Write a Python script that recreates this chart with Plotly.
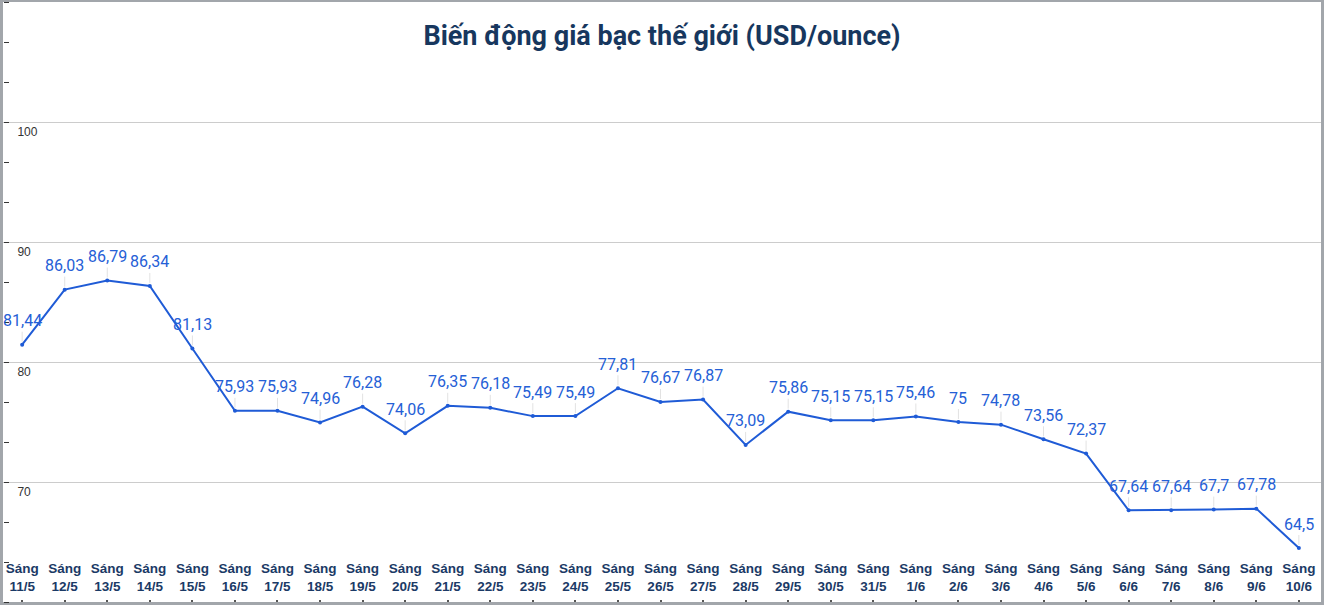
import plotly.graph_objects as go

categories = ["11/5", "12/5", "13/5", "14/5", "15/5", "16/5", "17/5", "18/5", "19/5", "20/5",
              "21/5", "22/5", "23/5", "24/5", "25/5", "26/5", "27/5", "28/5", "29/5", "30/5",
              "31/5", "1/6", "2/6", "3/6", "4/6", "5/6", "6/6", "7/6", "8/6", "9/6", "10/6"]
prices = [81.44, 86.03, 86.79, 86.34, 81.13, 75.93, 75.93, 74.96, 76.28, 74.06,
          76.35, 76.18, 75.49, 75.49, 77.81, 76.67, 76.87, 73.09, 75.86, 75.15,
          75.15, 75.46, 75.00, 74.78, 73.56, 72.37, 67.64, 67.64, 67.70, 67.78, 64.50]
y_tickvals = [70, 80, 90, 100]
title_text = "Biến động giá bạc thế giới (USD/ounce)"

x_labels = ["Sáng<br>" + c for c in categories]

def fmt(v):
    s = ("%.2f" % v).rstrip("0").rstrip(".")
    return s.replace(".", ",")

LINE = "#1f5bd6"
fig = go.Figure()
fig.add_trace(go.Scatter(
    x=x_labels, y=prices, mode="lines+markers",
    line=dict(color=LINE, width=2),
    marker=dict(color=LINE, size=4),
    hoverinfo="skip", showlegend=False,
))

for xl, v in zip(x_labels, prices):
    fig.add_annotation(
        x=xl, y=v, xref="x", yref="y", text=fmt(v),
        showarrow=True, arrowhead=0, arrowwidth=1, arrowcolor="#e2e2e2",
        ax=0, ay=-24, standoff=3,
        font=dict(family="Roboto, Arial, sans-serif", size=16, color="#2560d6"),
    )

fig.update_layout(
    width=1324, height=605,
    margin=dict(l=3, r=3, t=2, b=3),
    paper_bgcolor="#a2a6ab",
    plot_bgcolor="white",
    title=dict(text="<b>" + title_text + "</b>", x=0.5, xanchor="center",
               y=1 - 36 / 605, yanchor="middle", yref="container",
               font=dict(family="Roboto, Arial, sans-serif", size=27, color="#17375e")),
    xaxis=dict(
        type="category", range=[-0.45, 30.52],
        showgrid=False, zeroline=False, showline=False,
        ticks="inside", ticklen=2, tickwidth=2, tickcolor="#555",
        ticklabelposition="inside", ticklabelstandoff=6, ticklabeloverflow="allow",
        tickfont=dict(family="Liberation Sans, Arial, sans-serif", size=13.5,
                      color="#1b3a66", weight="bold"),
    ),
    yaxis=dict(
        range=[60, 110], tickmode="array", tickvals=y_tickvals,
        anchor="free", position=0, side="right",
        showgrid=True, gridcolor="#cccccc", gridwidth=1, zeroline=False, showline=False,
        ticks="outside", ticklen=5, tickcolor="#333",
        ticklabelposition="outside", ticklabelstandoff=6, ticklabelshift=10,
        tickfont=dict(family="Liberation Sans, Arial, sans-serif", size=12, color="#333"),
        minor=dict(tickmode="array", tickvals=[60 + i * 10 / 3 for i in range(16)],
                   ticks="outside", ticklen=5, tickcolor="#333", showgrid=False),
    ),
)

fig.write_html("out.html")
